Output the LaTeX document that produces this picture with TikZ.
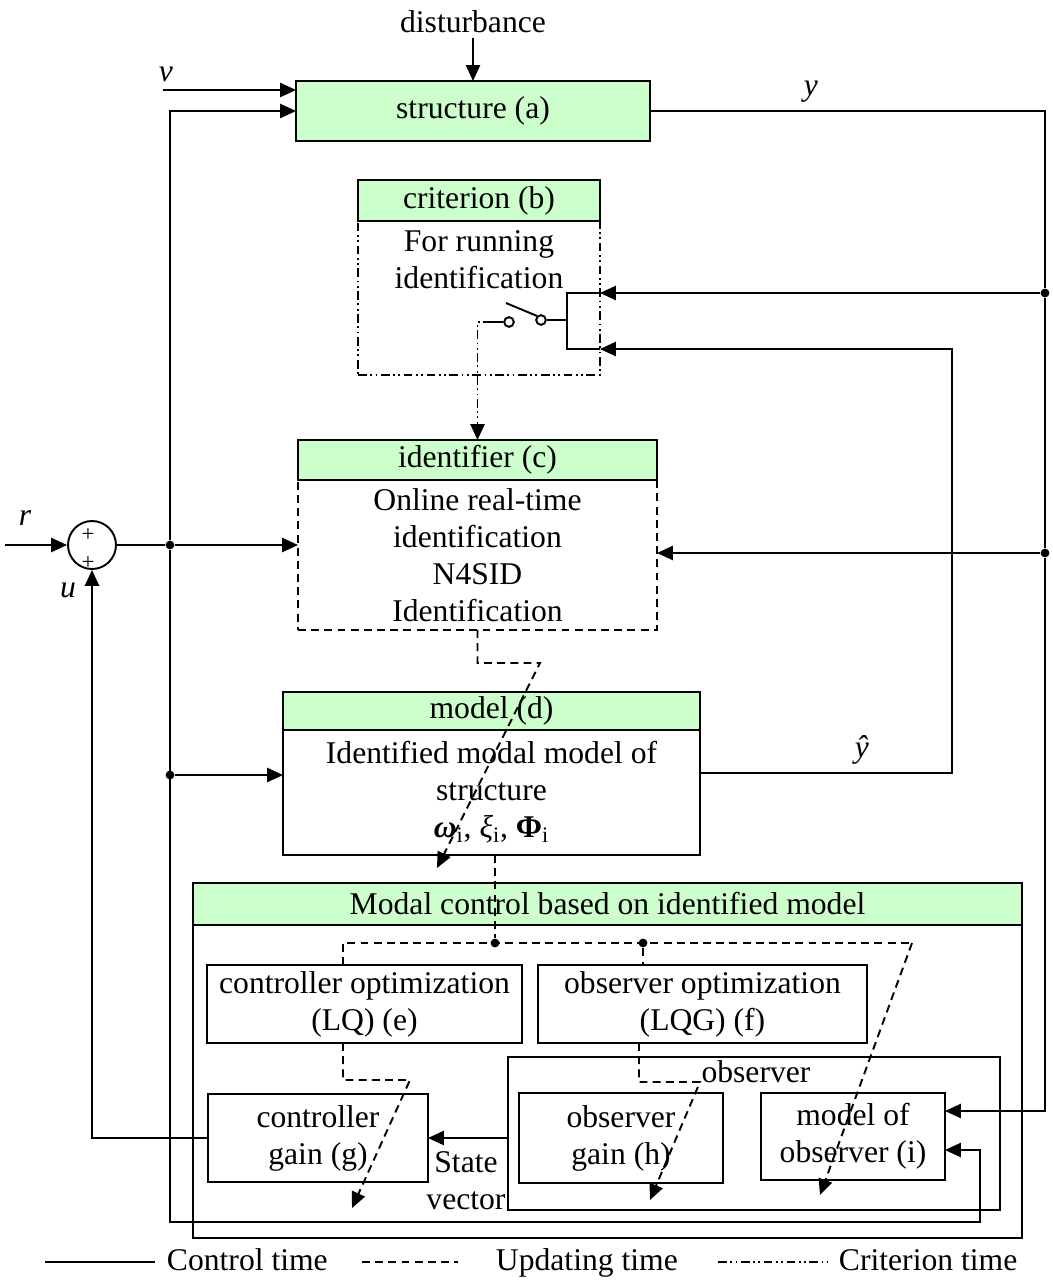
\documentclass[tikz,border=0pt]{standalone}
\usepackage{fontspec}
\setmainfont{Liberation Serif}
\usetikzlibrary{arrows.meta,positioning}
\definecolor{hdrgreen}{HTML}{CCFFCC}

\begin{document}
\begin{tikzpicture}[x=0.02cm, y=-0.02cm, line width=1.1pt,
        font=\fontsize{18}{21}\selectfont,
        >={Triangle[length=9pt,width=8pt]},
        hdr/.style={draw, fill=hdrgreen, inner sep=0pt, outer sep=0pt},
        blk/.style={draw, align=center, inner sep=2pt, outer sep=0pt},
        txt/.style={align=center, inner sep=2pt},
        upd/.style={dash pattern=on 4.5pt off 3pt},
        crit/.style={dash pattern=on 5pt off 2pt on 1pt off 2pt on 1pt off 2pt},
        jdot/.style={circle, fill, inner sep=0pt, minimum size=5pt},
        contact/.style={circle, draw, fill=white, inner sep=0pt, minimum size=5.5pt}]
                        \useasboundingbox (0,0) rectangle (1052,1281);

                        \node[txt] (dist) at (473,22) {disturbance};
                        \node[hdr, minimum width=7.08cm, minimum height=1.2cm] (struct) at (473,111) {structure (a)};

                        \node[draw, crit, outer sep=0pt, minimum width=4.84cm, minimum height=3.08cm] (critbody) at (479,298) {};
                        \node[hdr, minimum width=4.84cm, minimum height=0.82cm] (crithead) at (479,200.5) {criterion (b)};
                        \node[txt, below=3pt of crithead] (crittext) {For running\\identification};

                        \node[draw, upd, outer sep=0pt, align=center, minimum width=7.18cm, minimum height=3cm] (identbody) at (477.5,555) {Online real-time\\identification\\N4SID\\Identification};
                        \node[hdr, minimum width=7.18cm, minimum height=0.8cm] (identhead) at (477.5,460) {identifier (c)};

                        \node[blk, minimum width=8.34cm, minimum height=2.5cm] (modelbody) at (491.5,792.5) {Identified modal model of\\structure\\\textbf{\textit{ω}}\textsubscript{i}, \textit{ξ}\textsubscript{i}, \textbf{Φ}\textsubscript{i}};
                        \node[hdr, minimum width=8.34cm, minimum height=0.76cm] (modelhead) at (491.5,711) {model (d)};

                        \node[draw, outer sep=0pt, minimum width=16.58cm, minimum height=6.26cm] (modalbody) at (607.5,1081.5) {};
                        \node[hdr, minimum width=16.58cm, minimum height=0.84cm] (modalhead) at (607.5,904) {Modal control based on identified model};

                        \node[blk, minimum width=6.3cm, minimum height=1.56cm] (lqopt) at (364.5,1004) {controller optimization\\(LQ) (e)};
                        \node[blk, minimum width=6.58cm, minimum height=1.56cm] (lqgopt) at (702.5,1004) {observer optimization\\(LQG) (f)};
                        \node[draw, outer sep=0pt, minimum width=9.84cm, minimum height=3.06cm] (obs) at (754,1133.5) {};
                        \node[txt] (obslab) at (756,1072) {observer};
                        \node[blk, minimum width=4.08cm, minimum height=1.8cm] (obsgain) at (621,1138) {observer\\gain (h)};
                        \node[blk, minimum width=3.68cm, minimum height=1.74cm] (obsmodel) at (853,1136.5) {model of\\observer (i)};
                        \node[blk, minimum width=4.4cm, minimum height=1.76cm] (ctrlgain) at (318,1138) {controller\\gain (g)};
                        \node[txt] (statelab) at (466,1181) {State\\vector};

                        \node[circle, draw, inner sep=0pt, minimum size=0.96cm] (sum) at (92,545) {};
                        \node[inner sep=0pt, font=\fontsize{13}{13}\selectfont] (plusa) at (88,535) {+};
                        \node[inner sep=0pt, font=\fontsize{13}{13}\selectfont] (plusb) at (88,563) {+};

                        \node (rlab) at (25,518) {\textit{r}};
                        \node (ulab) at (68,590) {\textit{u}};
                        \node (vlab) at (166,74) {\textit{v}};
                        \node (ylab) at (811,92) {\textit{y}};
                        \node (yhatlab) at (862,750) {\textit{ŷ}};

                        \node[jdot] (jsum) at (170,545) {};
                        \node[jdot] (jmod) at (170,775) {};
                        \node[jdot] (jy1) at (1045,293) {};
                        \node[jdot] (jy2) at (1045,553) {};
                        \node[jdot] (jupd) at (495,943) {};
                        \node[jdot] (jobs) at (643,943) {};
                        \node[contact] (swa) at (509,322) {};
                        \node[contact] (swb) at (541,320) {};

                        \coordinate (rin) at (5,545);
                        \coordinate (vin) at (163,90);
                        \coordinate (ubend) at (170,1222);
                        \coordinate (uin) at (980,1150);
                        \coordinate (ytop) at (1045,111);
                        \coordinate (ybot) at (1045,1111);
                        \coordinate (yhatr) at (952,773);
                        \coordinate (yhatup) at (952,349);
                        \coordinate (swbar) at (567,320);
                        \coordinate (blade) at (506,303);
                        \coordinate (swout) at (492,322);
                        \coordinate (upda) at (477,663);
                        \coordinate (updb) at (540,663);
                        \coordinate (upde) at (437,868);
                        \coordinate (updl) at (343,943);
                        \coordinate (updr) at (912,943);
                        \coordinate (updrend) at (820,1195);
                        \coordinate (lqa) at (343,1080);
                        \coordinate (lqb) at (410,1080);
                        \coordinate (lqend) at (352,1208);
                        \coordinate (lqga) at (639,1082);
                        \coordinate (lqgb) at (700,1082);
                        \coordinate (lqgend) at (650,1200);

                        \draw[->] (dist) -- (struct.north);
                        \draw[->] (vin) -- (struct.west |- vin);
                        \draw[->] (rin) -- (sum.west);
                        \draw (sum.east) -- (jsum);
                        \draw[->] (jsum) -- (identbody.west |- jsum);
                        \draw[->] (jsum) |- (struct.west);
                        \draw[->] (jmod) -- (modelbody.west |- jmod);
                        \draw[->] (jsum) -- (ubend) -| (uin) -- (obsmodel.east |- uin);
                        \draw (struct.east) -- (ytop) -- (jy1) -- (jy2);
                        \draw[->] (jy2) -- (ybot) -- (obsmodel.east |- ybot);
                        \draw[->] (jy1) -- (critbody.east |- jy1);
                        \draw[->] (jy2) -- (identbody.east |- jy2);
                        \draw[->] (modelbody.east |- yhatr) -- (yhatr) -- (yhatup) -- (critbody.east |- yhatup);
                        \draw (critbody.east |- jy1) -- (swbar |- jy1) -- (swbar |- yhatup) -- (critbody.east |- yhatup);
                        \draw (swb.east) -- (swbar);
                        \draw (blade) -- (swb.north west);
                        \draw (swa.west) -- (swout);
                        \draw[crit, ->] (swout) -| (identhead.north);
                        \draw[->] (obs.west |- ctrlgain.east) -- (ctrlgain.east);
                        \draw[->] (ctrlgain.west) -| (sum.south);

                        \draw[upd, ->] (identbody.south) -- (identbody.south |- upda) -- (updb) -- (upde);
                        \draw[upd] (modelbody.south -| jupd) -- (jupd);
                        \draw[upd] (lqopt.north -| updl) -- (updl) -- (updr);
                        \draw[upd] (jobs) -- (lqgopt.north -| jobs);
                        \draw[upd, ->] (updr) -- (updrend);
                        \draw[upd, ->] (lqopt.south -| lqa) -- (lqa) -- (lqb) -- (lqend);
                        \draw[upd, ->] (lqgopt.south -| lqga) -- (lqga) -- (lqgb) -- (lqgend);

                        \node[anchor=base west, inner sep=0pt] (legctrl) at (166,1270) {Control time};
                        \node[anchor=base west, inner sep=0pt] (legupd) at (495,1270) {Updating time};
                        \node[anchor=base west, inner sep=0pt] (legcrit) at (838,1270) {Criterion time};
                        \draw (45,1262) -- (155,1262);
                        \draw[upd] (362,1262) -- (458,1262);
                        \draw[crit] (718,1262) -- (828,1262);
                    \end{tikzpicture}
\end{document}
